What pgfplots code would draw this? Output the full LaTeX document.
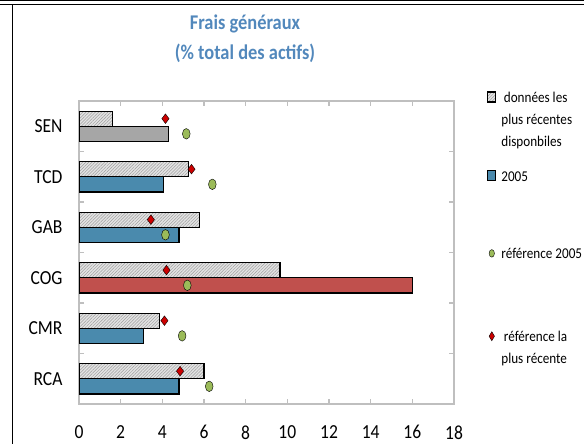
\documentclass[border=0pt]{standalone}
\usepackage{pgfplots}
\pgfplotsset{compat=1.18}
\usepackage{fontspec}
\setmainfont{Carlito}[FakeStretch=0.88]
\usetikzlibrary{patterns.meta}
\definecolor{barblue}{RGB}{74,138,173}
\definecolor{barred}{RGB}{192,80,77}
\definecolor{bargray}{RGB}{166,166,166}
\definecolor{refgreen}{RGB}{155,187,89}
\definecolor{refred}{RGB}{204,0,0}
\definecolor{titleblue}{RGB}{82,136,188}
\definecolor{framegray}{RGB}{191,191,191}
\tikzset{hatchbar/.style={fill=gray!22, postaction={pattern={Lines[angle=45,distance=2.2bp,line width=0.5bp]}, pattern color=gray!75}}}
\pgfplotsset{
  sqlegend/.style={legend image code/.code={\draw[##1] (0bp,0.5bp) rectangle (8bp,10.5bp);}},
  greenlegend/.style={legend image code/.code={\draw[only marks, mark=*, mark size=3.8bp, mark options={xscale=0.7, draw=none, fill=refgreen}] plot coordinates {(4bp,5.5bp)};}},
  redlegend/.style={legend image code/.code={\draw[only marks, mark=diamond*, mark size=4.5bp, mark options={xscale=0.8, draw=none, fill=refred}] plot coordinates {(4bp,5.5bp)};}},
}
\begin{document}
\begin{tikzpicture}
\useasboundingbox (0,0) rectangle (584bp,444bp);
\draw[line width=1.3bp] (0,443.3bp) -- (584bp,443.3bp);
\draw[line width=1.3bp] (0,439.3bp) -- (584bp,439.3bp);
\draw[line width=1.3bp] (12.6bp,0) -- (12.6bp,439.3bp);
\begin{axis}[
  at={(79bp,40bp)}, anchor=south west,
  scale only axis, width=375bp, height=303bp,
  xmin=0, xmax=18, ymin=-0.5, ymax=5.5,
  xtick={0,2,...,18},
  ytick={-0.5,0.5,...,5.5}, yticklabels={},
  extra y ticks={0,1,2,3,4,5},
  extra y tick labels={RCA,CMR,COG,GAB,TCD,SEN},
  extra y tick style={major tick length=0pt, yticklabel style={xshift=-13bp}},
  axis line style={framegray, line width=1.5bp},
  tick style={framegray, line width=1.2bp},
  tick align=inside,
  major tick length=5bp,
  xticklabel style={yshift=-18bp},
  ticklabel style={font=\fontsize{20}{24}\selectfont},
  /pgf/number format/assume math mode=true,
  legend cell align=left,
  legend style={draw=none, fill=none, at={(1.088,1.0462)}, anchor=north west,
    inner sep=0pt, row sep=66bp, font=\fontsize{15}{22}\selectfont,
    nodes={inner sep=0pt, anchor=base west},
    /tikz/every odd column/.append style={column sep=5bp}},
]
\addplot[xbar, bar width=0.3, bar shift=0.15, draw=black, line width=1.2bp, hatchbar, sqlegend]
  coordinates {(1.6,5) (5.25,4) (5.8,3) (9.65,2) (3.85,1) (6.0,0)};
\addlegendentry{\begin{tabular}[t]{@{}l@{}}\,données les\\plus récentes\\disponbiles\end{tabular}}
\addplot[xbar, bar width=0.3, bar shift=-0.15, draw=black, line width=1.2bp, fill=barblue, sqlegend]
  coordinates {(4.05,4) (4.8,3) (3.1,1) (4.8,0)};
\addlegendentry{2005}
\addplot[xbar, bar width=0.3, bar shift=-0.15, draw=black, line width=1.2bp, fill=bargray, forget plot]
  coordinates {(4.3,5)};
\addplot[xbar, bar width=0.3, bar shift=-0.15, draw=black, line width=1.2bp, fill=barred, forget plot]
  coordinates {(16,2)};
\addplot[only marks, mark=*, mark size=5.3bp, mark options={xscale=0.73, draw=none, fill=refgreen}, greenlegend]
  coordinates {(5.15,4.85) (6.4,3.85) (4.15,2.85) (5.2,1.85) (4.95,0.85) (6.25,-0.15)};
\addlegendentry{référence 2005}
\addplot[only marks, mark=diamond*, mark size=4.8bp, mark options={draw=none, fill=refred}, redlegend]
  coordinates {(4.15,5.15) (5.4,4.15) (3.45,3.15) (4.2,2.15) (4.1,1.15) (4.85,0.15)};
\addlegendentry{\begin{tabular}[t]{@{}l@{}}\,référence la\\plus récente\end{tabular}}
\end{axis}
\node[anchor=base, font=\fontsize{21}{24}\selectfont\bfseries, text=titleblue] at (245bp,414bp) {Frais généraux};
\node[anchor=base, font=\fontsize{21}{24}\selectfont\bfseries, text=titleblue] at (245bp,384bp) {(\% total des actifs)};
\end{tikzpicture}
\end{document}
